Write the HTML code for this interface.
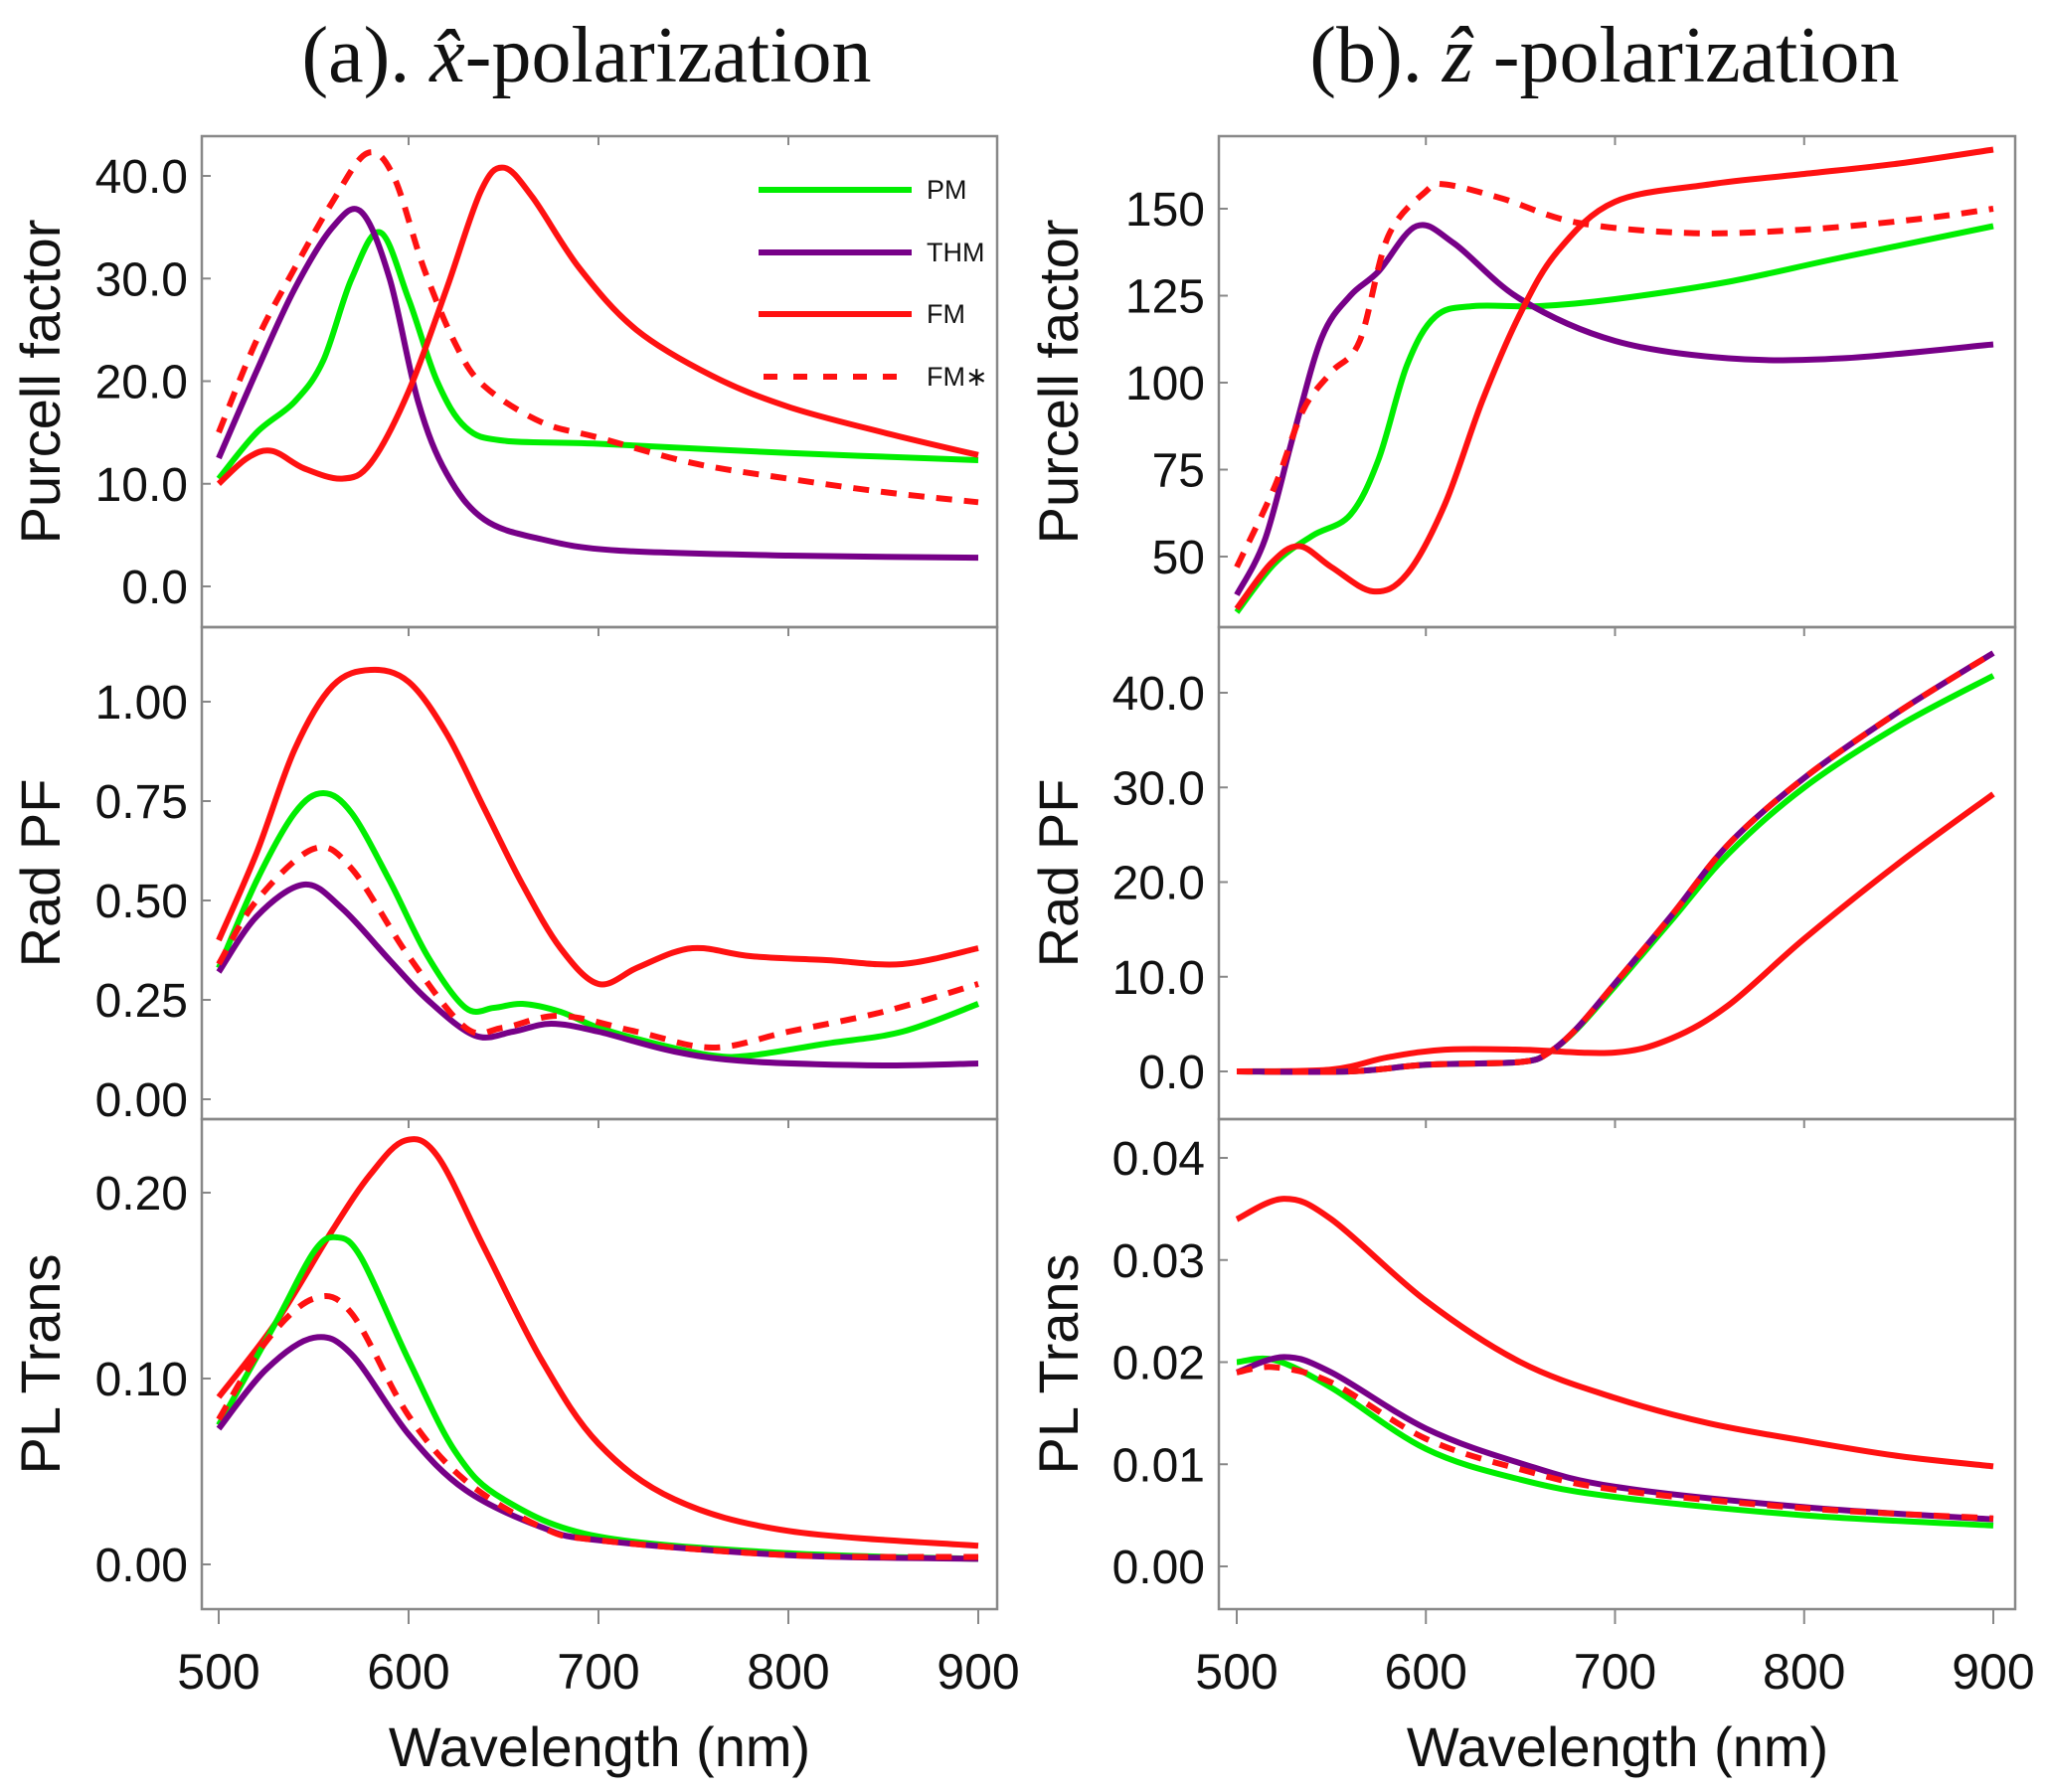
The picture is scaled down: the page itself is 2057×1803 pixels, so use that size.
<!DOCTYPE html>
<html><head><meta charset="utf-8"><style>
body{margin:0;background:#fff;width:2057px;height:1803px;overflow:hidden}
svg{display:block}
text{font-family:"Liberation Sans",sans-serif;fill:#111}
</style></head><body>
<svg id="s" width="2057" height="1803" xmlns="http://www.w3.org/2000/svg">
<rect width="2057" height="1803" fill="#fff"/>
<text x="590" y="82" style="font-family:'Liberation Serif',serif" font-size="80" text-anchor="middle">(a). <tspan font-style="italic">x̂</tspan>-polarization</text>
<text x="1614" y="82" style="font-family:'Liberation Serif',serif" font-size="80" text-anchor="middle">(b). <tspan font-style="italic">ẑ</tspan> -polarization</text>
</svg>
<script>
var S=document.getElementById('s'),NS='http://www.w3.org/2000/svg';
function el(t,a,txt){var e=document.createElementNS(NS,t);for(var k in a)e.setAttribute(k,a[k]);if(txt!=null)e.textContent=txt;S.appendChild(e);return e;}
var G='#00ee00',P='#770088',R='#ff1111';
function path(pts,fx,fy){var p=pts.map(function(q){return [fx(q[0]),fy(q[1])]});var d='M'+p[0][0].toFixed(1)+','+p[0][1].toFixed(1);
for(var i=0;i<p.length-1;i++){var p0=p[i-1]||p[i],p1=p[i],p2=p[i+1],p3=p[i+2]||p2;
d+=' C'+(p1[0]+(p2[0]-p0[0])/6).toFixed(1)+','+(p1[1]+(p2[1]-p0[1])/6).toFixed(1)+' '+(p2[0]-(p3[0]-p1[0])/6).toFixed(1)+','+(p2[1]-(p3[1]-p1[1])/6).toFixed(1)+' '+p2[0].toFixed(1)+','+p2[1].toFixed(1);}
return d;}
function panel(o){
 var fx=function(x){return o.x0+(x-500)/400*(o.x1-o.x0)};
 var fy=function(v){return o.yA+(v-o.vA)/(o.vB-o.vA)*(o.yB-o.yA)};
 o.ticks.forEach(function(t){var y=fy(t[0]);el('line',{x1:o.L,x2:o.L+9,y1:y,y2:y,stroke:'#888','stroke-width':2});
  el('text',{x:o.L-14,y:y+17,'font-size':48,'text-anchor':'end'},t[1]);});
 [600,700,800].forEach(function(x){el('line',{x1:fx(x),x2:fx(x),y1:o.T,y2:o.T+9,stroke:'#888','stroke-width':2});});
 o.series.forEach(function(s){el('path',{d:path(s[1],fx,fy),fill:'none',stroke:s[0],'stroke-width':6,'stroke-dasharray':s[2]?'16,12':'none','stroke-linejoin':'round'});});
 el('text',{transform:'translate('+o.lx+','+((o.T+o.B)/2)+') rotate(-90)','font-size':56,'text-anchor':'middle'},o.label);
}
function box(L,R2,T,B){el('rect',{x:L,y:T,width:R2-L,height:B-T,fill:'none',stroke:'#888','stroke-width':2.5});}
var L1=203,R1=1003,L2=1226,R2=2027,y0=137,y1=631,y2=1126,y3=1619;
panel({L:L1,T:y0,B:y1,x0:220,x1:984,yA:177,vA:40,yB:590,vB:0,lx:60,label:'Purcell factor',
 ticks:[[40,'40.0'],[30,'30.0'],[20,'20.0'],[10,'10.0'],[0,'0.0']],
 series:[
 [G,[[500,10.5],[520,15],[540,18],[555,22],[570,30],[585,34.5],[600,28],[615,20],[630,15.5],[650,14.2],[700,13.9],[800,13],[900,12.3]]],
 [P,[[500,12.5],[520,21],[540,29],[560,35],[575,36.5],[590,30],[605,18],[620,11],[640,6.5],[670,4.6],[710,3.5],[800,3],[900,2.8]]],
 [R,[[500,10],[515,12.5],[528,13.2],[545,11.5],[565,10.5],[580,12],[600,19],[620,29],[638,38.5],[650,40.8],[665,38],[690,31],[720,25],[760,20.5],[800,17.5],[850,15],[900,12.8]]],
 [R,[[500,15],[520,24],[540,31],[560,37.5],[578,42.2],[592,40],[608,31],[625,23.5],[640,19.5],[670,16],[700,14.5],[750,12],[800,10.5],[850,9.2],[900,8.2]],1]]});
panel({L:L1,T:y1,B:y2,x0:220,x1:984,yA:706,vA:1,yB:1106,vB:0,lx:60,label:'Rad PF',
 ticks:[[1,'1.00'],[.75,'0.75'],[.5,'0.50'],[.25,'0.25'],[0,'0.00']],
 series:[
 [G,[[500,.33],[520,.55],[540,.72],[555,.77],[570,.72],[590,.55],[610,.36],[630,.23],[645,.23],[660,.24],[680,.22],[700,.18],[730,.14],[760,.11],[780,.11],[820,.14],[860,.17],[900,.24]]],
 [P,[[500,.32],[520,.46],[545,.54],[565,.48],[590,.35],[610,.25],[635,.16],[655,.17],[675,.19],[700,.17],[740,.12],[780,.095],[850,.085],[900,.09]]],
 [R,[[500,.40],[520,.62],[540,.88],[560,1.04],[580,1.08],[600,1.05],[620,.92],[640,.73],[660,.54],[680,.38],[700,.29],[720,.33],[740,.37],[755,.38],[780,.36],[820,.35],[860,.34],[900,.38]]],
 [R,[[500,.34],[520,.50],[550,.63],[570,.58],[600,.36],[630,.18],[650,.18],[680,.21],[720,.17],[760,.13],[800,.17],[850,.22],[900,.29]],1]]});
panel({L:L1,T:y2,B:y3,x0:220,x1:984,yA:1200,vA:.2,yB:1574,vB:0,lx:60,label:'PL Trans',
 ticks:[[.2,'0.20'],[.1,'0.10'],[0,'0.00']],
 series:[
 [R,[[500,.09],[530,.13],[560,.18],[580,.21],[598,.228],[615,.22],[640,.17],[670,.11],[700,.065],[740,.035],[800,.018],[900,.010]]],
 [G,[[500,.075],[530,.13],[550,.168],[562,.176],[575,.165],[600,.11],[625,.06],[650,.035],[700,.015],[800,.006],[900,.003]]],
 [P,[[500,.073],[525,.105],[550,.122],[570,.113],[600,.07],[630,.04],[670,.02],[700,.013],[800,.005],[900,.003]]],
 [R,[[500,.078],[525,.12],[550,.143],[570,.135],[600,.08],[630,.045],[670,.02],[700,.013],[800,.005],[900,.004]],1]]});
panel({L:L2,T:y0,B:y1,x0:1244,x1:2005,yA:210,vA:150,yB:560,vB:50,lx:1084,label:'Purcell factor',
 ticks:[[150,'150'],[125,'125'],[100,'100'],[75,'75'],[50,'50']],
 series:[
 [G,[[500,34],[520,48],[540,56],[560,62],[575,78],[590,105],[605,119],[625,122],[660,122],[700,124],[760,129],[820,136],[900,145]]],
 [P,[[500,39],[515,55],[530,85],[545,113],[560,125],[575,132],[595,145],[615,140],[650,124],[700,112],[760,107],[820,107],[900,111]]],
 [R,[[500,35],[518,48],[533,53],[550,47],[572,40],[590,45],[610,65],[630,95],[650,120],[670,138],[700,152],[750,157],[800,160],[850,163],[900,167]]],
 [R,[[500,47],[520,70],[535,92],[550,103],[565,112],[580,142],[600,155],[610,157],[640,153],[680,146],[740,143],[800,144],[860,147],[900,150]],1]]});
panel({L:L2,T:y1,B:y2,x0:1244,x1:2005,yA:697,vA:40,yB:1078,vB:0,lx:1084,label:'Rad PF',
 ticks:[[40,'40.0'],[30,'30.0'],[20,'20.0'],[10,'10.0'],[0,'0.0']],
 series:[
 [R,[[500,0],[550,.2],[580,1.5],[610,2.3],[650,2.3],[700,2.0],[730,3.5],[760,7],[800,14],[850,22],[900,29.3]]],
 [G,[[500,0],[560,0],[600,.7],[650,1.0],[665,2],[680,4.5],[700,9],[730,16],[760,23],[800,30],[850,36.5],[900,41.8]]],
 [P,[[500,0],[560,0],[600,.7],[650,1.0],[665,2],[680,4.6],[700,9.3],[730,16.5],[760,24],[800,31],[850,38],[900,44.2]]],
 [R,[[500,0],[560,0],[600,.7],[650,1.0],[665,2],[680,4.6],[700,9.3],[730,16.5],[760,24],[800,31],[850,38],[900,44.2]],1]]});
panel({L:L2,T:y2,B:y3,x0:1244,x1:2005,yA:1165,vA:.04,yB:1576,vB:0,lx:1084,label:'PL Trans',
 ticks:[[.04,'0.04'],[.03,'0.03'],[.02,'0.02'],[.01,'0.01'],[0,'0.00']],
 series:[
 [R,[[500,.034],[525,.036],[550,.034],[600,.026],[650,.020],[700,.0165],[750,.014],[800,.0123],[850,.0108],[900,.0098]]],
 [G,[[500,.020],[520,.0202],[550,.0175],[600,.0115],[650,.0085],[700,.0068],[800,.005],[900,.004]]],
 [P,[[500,.019],[525,.0205],[550,.019],[600,.0135],[650,.0101],[700,.0078],[800,.0058],[900,.0046]]],
 [R,[[500,.019],[520,.0195],[550,.018],[600,.0125],[650,.0095],[700,.0075],[800,.0057],[900,.0047]],1]]});
[[L1,R1],[L2,R2]].forEach(function(c){box(c[0],c[1],y0,y1);box(c[0],c[1],y1,y2);box(c[0],c[1],y2,y3);});
[[220,984,603],[1244,2005,1627]].forEach(function(a){for(var i=0;i<5;i++){var x=a[0]+i*(a[1]-a[0])/4;
 el('line',{x1:x,x2:x,y1:y3,y2:y3+15,stroke:'#888','stroke-width':2});
 el('text',{x:x,y:y3+80,'font-size':50,'text-anchor':'middle'},String(500+100*i));}
 el('text',{x:a[2],y:1777,'font-size':56,'text-anchor':'middle'},'Wavelength (nm)');});
[[G,'PM',191],[P,'THM',254],[R,'FM',316],[R,'FM*',379]].forEach(function(l,i){
 el('line',{x1:i==3?768:763,x2:i==3?905:917,y1:l[2],y2:l[2],stroke:l[0],'stroke-width':6,'stroke-dasharray':i==3?'14,16':'none'});
 el('text',{x:932,y:l[2]+9,'font-size':27},l[1]=='FM*'?'FM\u2217':l[1]);});
</script>
</body></html>
